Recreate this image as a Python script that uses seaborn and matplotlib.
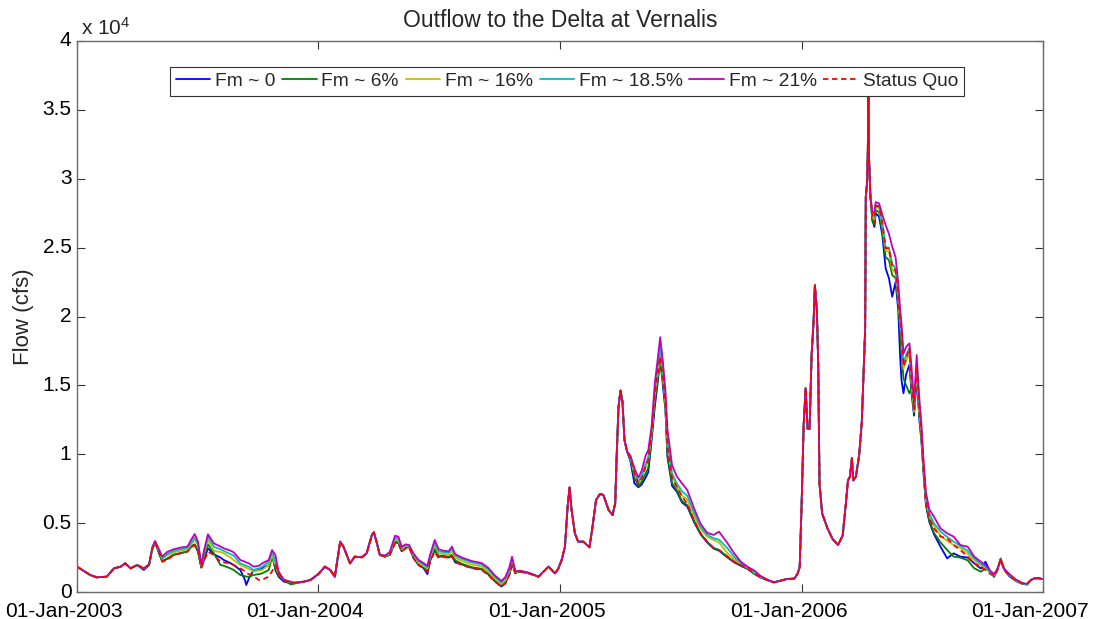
import numpy as np
import pandas as pd
import matplotlib
matplotlib.use("Agg")
import matplotlib.pyplot as plt
import matplotlib.transforms as mtransforms
from matplotlib.ticker import FixedLocator, FuncFormatter
import seaborn as sns

# Daily-flow sample points, given as days since 01-Jan-2003
days = [
    # 2003
    0, 20, 30, 45, 56, 66, 73, 81, 91, 101, 109, 114, 118, 124, 129, 136, 146, 156, 167, 174,
    178, 183, 188, 192, 198, 207, 217, 222, 232, 237, 247, 254, 256, 260, 267, 275, 280, 290,
    295, 300, 305, 313, 323, 328, 343, 353,
    # 2004
    365, 375, 383, 390, 398, 403, 413, 420, 431, 438, 446, 449, 453, 458, 466, 473, 481, 486,
    491, 497, 502, 509, 516, 524, 530, 534, 541, 547, 554, 562, 567, 572, 582, 597, 612, 622,
    632, 642, 648, 654, 658, 663, 670, 683, 698, 713, 723,
    # 2005
    728, 733, 738, 742, 745, 748, 753, 758, 766, 775, 779, 785, 791, 796, 804, 810, 814, 816,
    819, 822, 825, 828, 832, 837, 843, 849, 854, 860, 864, 869, 874, 879, 882, 886, 890, 893,
    900, 907, 915, 923, 933, 943, 953, 963, 971, 984, 994, 1004, 1014, 1024, 1034, 1044, 1054,
    1064, 1074, 1085, 1090, 1093,
    # 2006
    1096, 1099, 1102, 1105, 1108, 1111, 1114, 1116, 1119, 1121, 1123, 1127, 1135, 1143, 1151,
    1158, 1163, 1166, 1169, 1172, 1174, 1178, 1183, 1187, 1190, 1192, 1193, 1195, 1196, 1197,
    1198, 1200, 1203, 1206, 1208, 1213, 1218, 1223, 1228, 1233, 1238, 1242, 1245, 1247, 1250,
    1254, 1259, 1262, 1266, 1270, 1274, 1277, 1280, 1284, 1289, 1296, 1306, 1316, 1326, 1336,
    1347, 1357, 1367, 1374, 1380, 1387, 1392, 1397, 1402, 1410, 1420, 1430, 1437, 1443, 1448,
    1455, 1460,
]

# Flow (cfs) for each scenario
flow_fm0 = [
    1840, 1234, 1065, 1113, 1718, 1840, 2080, 1718, 1960,
    1597, 1960, 3150, 3600, 2850, 2250, 2400, 2700, 2807, 2950, 3364, 3412, 2950, 1790, 2300,
    3170, 2740, 2500, 2323, 2100, 1960, 1597, 871, 508, 992, 1597, 1650, 1718, 1960, 2930, 1597,
    1100, 750, 650, 640, 750, 871,
    1300, 1840, 1597, 1113, 3654, 3290, 2080, 2565, 2520, 2807, 4140, 4330, 3654, 2686,
    2570, 2700, 3600, 3560, 2960, 3190, 3300, 2480, 2000, 1740, 1300, 2250, 3050, 2550, 2600,
    2500, 2650, 2150, 2000, 1760, 1650, 1280, 780, 400, 650, 1300, 2050, 1380, 1485, 1360,
    1113, 1840, 1355,
    1700, 2323, 3290, 6195, 7600, 5953, 4260, 3654, 3654, 3243, 4500, 6680, 7115, 7050, 5953,
    5590, 6440, 9580, 13450, 14620, 13820, 11030, 10190,
    9500, 7900, 7600, 7800, 8300, 8700, 11000, 13500, 15500, 17500, 15000, 13200, 9800, 7700,
    7300, 6500, 6200, 5100, 4200, 3600, 3150, 3000, 2500, 2150, 1900, 1680, 1330, 1050, 860,
    700, 820, 945, 970, 1355, 1800,
    6500, 12110, 14790, 11850, 11850, 17190, 19600, 22270, 20400, 16660, 7835, 5700, 4626, 3824,
    3420, 4090, 6500, 8100, 8370, 9710, 8100, 8370, 9970, 12380, 16390, 19070, 28690, 29760,
    31900, 36500, 31370, 28690,
    27000, 26500, 27500, 27250, 25900, 23500, 22770, 21440, 22500, 20500, 17000, 15390, 14420,
    15800, 16500, 14500, 12800, 15600, 12500, 11000, 8800, 6300, 5100, 4200, 3290, 2444, 2807,
    2565, 2500, 2080, 1700, 2200, 1600, 1100, 1600, 2370, 1650, 1150, 800, 580, 560,
    880, 992, 1000, 935,
]

flow_fm6 = [
    1840, 1234, 1065, 1113, 1718, 1840, 2080, 1718, 1960,
    1650, 1960, 3150, 3600, 2800, 2200, 2400, 2700, 2807, 2950, 3364, 3460, 3000, 1766, 2500,
    3460, 2807, 1960, 1900, 1718, 1600, 1234, 1150, 1113, 1113, 1234, 1300, 1355, 1597, 2565,
    1718, 1200, 871, 556, 600, 750, 871,
    1300, 1840, 1597, 1113, 3654, 3290, 2080, 2565, 2520, 2807, 4140, 4330, 3654, 2686,
    2580, 2720, 3650, 3600, 3000, 3220, 3310, 2520, 2030, 1780, 1560, 2300, 3150, 2600, 2650,
    2550, 2700, 2300, 2050, 1800, 1680, 1320, 820, 450, 700, 1350, 2100, 1400, 1490, 1370,
    1113, 1840, 1355,
    1700, 2323, 3290, 6195, 7600, 5953, 4260, 3654, 3654, 3243, 4500, 6680, 7115, 7050, 5953,
    5590, 6440, 9580, 13450, 14620, 13820, 11030, 10190,
    9600, 8300, 7700, 8000, 8600, 9000, 11200, 13900, 15700, 16500, 15300, 13300, 10000, 7900,
    7400, 6600, 6300, 5200, 4250, 3650, 3200, 3050, 2550, 2200, 1950, 1700, 1350, 1060, 865,
    700, 820, 945, 970, 1355, 1800,
    6500, 12110, 14790, 11850, 11850, 17190, 19600, 22270, 20400, 16660, 7835, 5700, 4626, 3824,
    3420, 4090, 6500, 8100, 8370, 9710, 8100, 8370, 9970, 12380, 16390, 19070, 28690, 29760,
    31900, 36500, 31370, 28690,
    26900, 26700, 27700, 27600, 26200, 24300, 24100, 23000, 22800, 21000, 19000, 17500, 15500,
    15000, 14420, 14800, 13000, 15900, 12800, 11300, 9000, 6400, 5200, 4300, 3600, 3050, 2565,
    2500, 2300, 1718, 1476, 1700, 1500, 1150, 1650, 2444, 1700, 1200, 820, 600, 580,
    880, 992, 1000, 935,
]

flow_fm16 = [
    1840, 1234, 1065, 1113, 1718, 1840, 2080, 1718, 1960,
    1718, 1980, 3200, 3650, 2950, 2400, 2650, 2880, 2977, 3100, 3533, 3775, 3400, 1900, 2800,
    3775, 2977, 2900, 2807, 2500, 2323, 1960, 1800, 1750, 1670, 1476, 1550, 1597, 1960, 2686,
    1960, 1380, 871, 720, 660, 750, 871,
    1300, 1840, 1597, 1113, 3654, 3290, 2080, 2565, 2520, 2807, 4140, 4330, 3654, 2686,
    2610, 2780, 3800, 3750, 3100, 3300, 3350, 2650, 2150, 1900, 1700, 2480, 3400, 2800, 2780,
    2700, 2950, 2500, 2250, 2000, 1850, 1500, 980, 580, 850, 1500, 2250, 1450, 1510, 1380,
    1113, 1840, 1355,
    1700, 2323, 3290, 6195, 7600, 5953, 4260, 3654, 3654, 3243, 4500, 6680, 7115, 7050, 5953,
    5590, 6440, 9580, 13450, 14620, 13820, 11030, 10190,
    9700, 8600, 7900, 8300, 9100, 9600, 11500, 14400, 16100, 17300, 15700, 13700, 10600, 8400,
    7700, 7000, 6700, 5500, 4620, 4017, 3780, 3600, 2800, 2380, 2050, 1760, 1420, 1100, 880,
    700, 820, 945, 970, 1355, 1800,
    6500, 12110, 14790, 11850, 11850, 17190, 19600, 22270, 20400, 16660, 7835, 5700, 4626, 3824,
    3420, 4090, 6500, 8100, 8370, 9710, 8100, 8370, 9970, 12380, 16390, 19070, 28690, 29760,
    31900, 36500, 31370, 28690,
    27300, 27000, 27900, 27900, 26600, 24800, 24700, 23400, 23200, 21400, 19500, 18600, 16200,
    16800, 17300, 15100, 13100, 16200, 13000, 11500, 9200, 6600, 5500, 4800, 4100, 3700, 3412,
    3200, 2800, 2300, 1950, 1750, 1450, 1200, 1650, 2370, 1700, 1250, 850, 620, 560,
    880, 992, 1000, 935,
]

flow_fm185 = [
    1840, 1234, 1065, 1113, 1718, 1840, 2080, 1718, 1960,
    1718, 1990, 3220, 3680, 3000, 2444, 2750, 2980, 3097, 3200, 3654, 3945, 3500, 1920, 2900,
    4017, 3290, 3100, 2977, 2750, 2638, 2080, 1950, 1900, 1840, 1597, 1700, 1840, 2200, 2930,
    2200, 1420, 871, 730, 670, 750, 871,
    1300, 1840, 1597, 1113, 3654, 3290, 2080, 2565, 2520, 2807, 4140, 4330, 3654, 2686,
    2630, 2850, 3950, 3900, 3200, 3380, 3380, 2720, 2250, 2000, 1800, 2600, 3600, 2950, 2900,
    2850, 3150, 2650, 2400, 2150, 2000, 1650, 1100, 700, 1000, 1650, 2400, 1480, 1530, 1390,
    1113, 1840, 1355,
    1700, 2323, 3290, 6195, 7600, 5953, 4260, 3654, 3654, 3243, 4500, 6680, 7115, 7050, 5953,
    5590, 6440, 9580, 13450, 14620, 13820, 11030, 10190,
    9750, 8700, 8000, 8450, 9300, 9800, 11700, 14700, 16600, 17800, 16000, 14000, 11000, 8600,
    7900, 7300, 7000, 5800, 4750, 4150, 3900, 3800, 3170, 2550, 2100, 1800, 1500, 1130, 890,
    700, 820, 945, 970, 1355, 1800,
    6500, 12110, 14790, 11850, 11850, 17190, 19600, 22270, 20400, 16660, 7835, 5700, 4626, 3824,
    3420, 4090, 6500, 8100, 8370, 9710, 8100, 8370, 9970, 12380, 16390, 19070, 28690, 29760,
    31900, 36500, 31370, 28690,
    27400, 27200, 28100, 28000, 26800, 25000, 25000, 23800, 23500, 21700, 19800, 18900, 16600,
    17200, 17700, 15500, 13300, 16600, 13300, 11800, 9400, 6800, 5700, 5000, 4400, 4000, 3654,
    3350, 3000, 2450, 2050, 1850, 1500, 1250, 1650, 2370, 1700, 1280, 880, 620, 510,
    880, 992, 1000, 935,
]

flow_fm21 = [
    1840, 1234, 1065, 1113, 1718, 1840, 2080, 1718, 1960,
    1718, 2000, 3250, 3700, 3100, 2565, 2900, 3100, 3218, 3300, 3896, 4210, 3654, 1960, 3000,
    4185, 3533, 3300, 3170, 3000, 2880, 2323, 2200, 2150, 2080, 1840, 1900, 2080, 2323, 3050,
    2686, 1476, 871, 750, 680, 750, 871,
    1300, 1840, 1597, 1113, 3654, 3290, 2080, 2565, 2520, 2807, 4140, 4330, 3654, 2686,
    2650, 2900, 4090, 4017, 3300, 3460, 3420, 2800, 2350, 2100, 1900, 2700, 3775, 3100, 3000,
    2950, 3290, 2750, 2500, 2250, 2100, 1750, 1200, 800, 1100, 1800, 2565, 1500, 1550, 1400,
    1113, 1840, 1355,
    1700, 2323, 3290, 6195, 7600, 5953, 4260, 3654, 3654, 3243, 4500, 6680, 7115, 7050, 5953,
    5590, 6440, 9580, 13450, 14620, 13820, 11030, 10190,
    9900, 9000, 8300, 8800, 9900, 10300, 12000, 15200, 17200, 18500, 16800, 14600, 11800, 9200,
    8400, 7890, 7405, 6100, 4950, 4300, 4140, 4380, 3533, 2800, 2200, 1840, 1570, 1160, 900,
    700, 820, 945, 970, 1355, 1800,
    6500, 12110, 14790, 11850, 11850, 17190, 19600, 22270, 20400, 16660, 7835, 5700, 4626, 3824,
    3420, 4090, 6500, 8100, 8370, 9710, 8100, 8370, 9970, 12380, 16390, 19070, 28690, 29760,
    31900, 36500, 31370, 28690,
    27500, 27600, 28300, 28220, 27400, 26640, 26000, 25070, 24300, 22500, 20500, 19500, 17300,
    17800, 18050, 16400, 13800, 17200, 14000, 12300, 9800, 7200, 6000, 5470, 4620, 4260, 4017,
    3412, 3290, 2565, 2200, 1960, 1600, 1300, 1650, 2370, 1700, 1300, 900, 640, 600,
    880, 992, 1000, 935,
]

flow_status_quo = [
    1840, 1234, 1065, 1113, 1718, 1840, 2080, 1718, 1960,
    1718, 1960, 3170, 3605, 2930, 2200, 2300, 2686, 2807, 2930, 3290, 3412, 2930, 1790, 2200,
    2930, 2686, 2200, 2150, 2080, 1950, 1718, 1500, 1400, 1300, 1150, 871, 900, 1113, 1500,
    1960, 1355, 871, 700, 650, 750, 871,
    1300, 1840, 1597, 1113, 3654, 3290, 2080, 2565, 2520, 2807, 4140, 4330, 3654, 2686,
    2565, 2686, 3533, 3533, 2930, 3170, 3290, 2444, 1960, 1718, 1476, 2200, 2930, 2444, 2565,
    2444, 2565, 2200, 1960, 1718, 1597, 1234, 750, 387, 630, 1234, 1960, 1355, 1476, 1355,
    1113, 1840, 1355,
    1700, 2323, 3290, 6195, 7600, 5953, 4260, 3654, 3654, 3243, 4500, 6680, 7115, 7050, 5953,
    5590, 6440, 9580, 13450, 14620, 13820, 11030, 10190,
    9700, 8620, 7890, 8260, 9100, 9580, 11520, 14425, 16120, 17085, 15630, 13700, 10550, 8260,
    7650, 6920, 6400, 5230, 4260, 3654, 3170, 3050, 2565, 2200, 1960, 1718, 1355, 1065, 871,
    700, 820, 945, 970, 1355, 1800,
    6500, 12110, 14790, 11850, 11850, 17190, 19600, 22270, 20400, 16660, 7835, 5700, 4626, 3824,
    3420, 4090, 6500, 8100, 8370, 9710, 8100, 8370, 9970, 12380, 16390, 19070, 28690, 29760,
    31900, 36500, 31370, 28690,
    27360, 26820, 28020, 28020, 26820, 24950, 24950, 23610, 23340, 21470, 19600, 18800, 16390,
    16930, 17730, 15320, 13180, 16390, 13180, 11580, 9170, 6500, 5400, 4620, 4017, 3900, 3412,
    3050, 2565, 2080, 1840, 1597, 1355, 1162, 1597, 2370, 1597, 1210, 871, 630, 630,
    880, 992, 1000, 935,
]

series_labels = ["Fm ~ 0", "Fm ~ 6%", "Fm ~ 16%", "Fm ~ 18.5%", "Fm ~ 21%", "Status Quo"]
series_values = [flow_fm0, flow_fm6, flow_fm16, flow_fm185, flow_fm21, flow_status_quo]
series_colors = ["#0000ff", "#008000", "#bfbf00", "#00bfbf", "#bf00bf", "#ff0000"]
series_dashed = [False, False, False, False, False, True]

x_tick_labels = ["01-Jan-2003", "01-Jan-2004", "01-Jan-2005", "01-Jan-2006", "01-Jan-2007"]
y_tick_values = [0, 5000, 10000, 15000, 20000, 25000, 30000, 35000, 40000]

for vals in series_values:
    assert len(vals) == len(days)

dates = pd.Timestamp("2003-01-01") + pd.to_timedelta(days, unit="D")

sns.set_theme(style="white")
plt.rcParams["font.family"] = ["Liberation Sans", "DejaVu Sans"]
plt.rcParams["mathtext.fontset"] = "custom"
plt.rcParams["mathtext.rm"] = "Liberation Sans"
plt.rcParams["mathtext.it"] = "Liberation Sans"

fig = plt.figure(figsize=(11.04, 6.19), dpi=100)
ax = fig.add_axes([77 / 1104, 1 - 592 / 619, (1043 - 77) / 1104, (592 - 41) / 619])

for label, vals, color, dashed in zip(series_labels, series_values, series_colors, series_dashed):
    df = pd.DataFrame({"date": dates, "flow": vals})
    kw = dict(dashes=(3, 2)) if dashed else {}
    sns.lineplot(data=df, x="date", y="flow", ax=ax, color=color, lw=1.3,
                 label=label, estimator=None, sort=False, **kw)

ax.set_xlim(pd.Timestamp("2003-01-01"), pd.Timestamp("2007-01-01"))
ax.set_ylim(0, 40000)

tick_dates = pd.to_datetime(["2003-01-01", "2004-01-01", "2005-01-01", "2006-01-01", "2007-01-01"])
ax.set_xticks(tick_dates)
ax.set_xticklabels(x_tick_labels)
ax.yaxis.set_major_locator(FixedLocator(y_tick_values))
ax.yaxis.set_major_formatter(FuncFormatter(lambda v, p: f"{v / 1e4:g}"))

ax.tick_params(axis="both", which="major", direction="in", length=6, width=0.8,
               color="#333333", labelsize=15, labelcolor="black",
               top=True, right=True, bottom=True, left=True)
ax.tick_params(axis="x", pad=7)
ax.tick_params(axis="y", pad=4)
xshift = mtransforms.ScaledTranslation(-13 / 100, 0, fig.dpi_scale_trans)
for lab in ax.get_xticklabels():
    lab.set_transform(lab.get_transform() + xshift)
yshift = mtransforms.ScaledTranslation(0, 2 / 100, fig.dpi_scale_trans)
for lab in ax.get_yticklabels():
    lab.set_transform(lab.get_transform() + yshift)

for sp in ax.spines.values():
    sp.set_visible(True)
    sp.set_color("#6a6a6a")
    sp.set_linewidth(1.0)

ax.set_xlabel("")
ax.set_ylabel("Flow (cfs)", fontsize=16, labelpad=6)
ax.set_title("Outflow to the Delta at Vernalis", fontsize=16.5, pad=10)
ax.text(0.004, 1.004, r"x 10$^{4}$", transform=ax.transAxes, fontsize=15,
        ha="left", va="bottom")

leg = ax.legend(loc="upper left", bbox_to_anchor=(93 / 966, 1 - 26 / 551), ncol=6,
                fontsize=13.8, frameon=True, fancybox=False, framealpha=1,
                handlelength=1.8, handletextpad=0.25, columnspacing=0.35,
                borderpad=0.3, borderaxespad=0.0)
leg.get_frame().set_edgecolor("#333333")
leg.get_frame().set_linewidth(0.8)

fig.savefig("out.png", dpi=100)
